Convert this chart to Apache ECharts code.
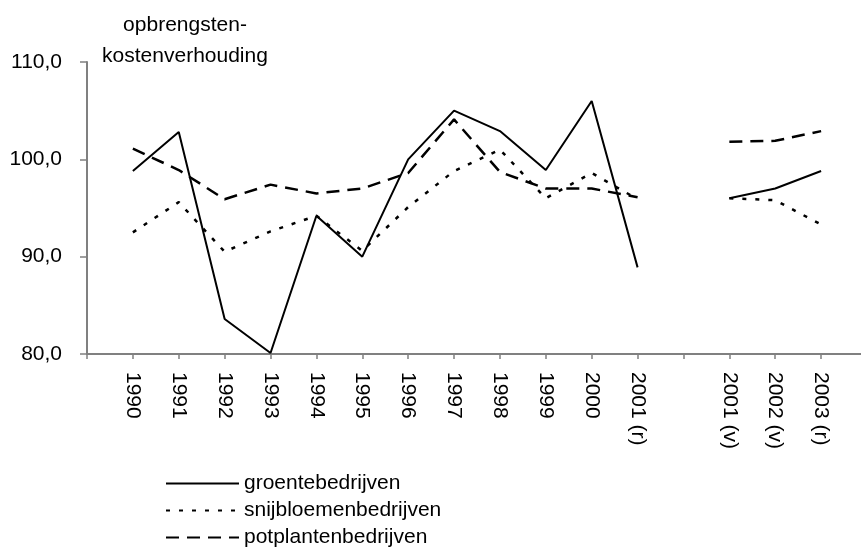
<!DOCTYPE html>
<html>
<head>
<meta charset="utf-8">
<script src="https://cdn.jsdelivr.net/npm/echarts@6/dist/echarts.min.js"></script>
<style>
  html, body { margin: 0; padding: 0; background: #fff; }
  #chart { width: 861px; height: 547px; }
</style>
</head>
<body>
<div id="chart"></div>
<script>
// categorieën (lege plekken geven de ruimte voor/na en de onderbreking)
const categories = ["", "1990", "1991", "1992", "1993", "1994", "1995", "1996", "1997", "1998", "1999", "2000", "2001 (r)", "", "2001 (v)", "2002 (v)", "2003 (r)", ""];
const groente = [null, 98.8, 102.8, 83.6, 80.1, 94.2, 90.0, 100.0, 105.0, 102.9, 98.9, 106.0, 88.9, null, 96.0, 97.0, 98.8, null];
const snijbloemen = [null, 92.5, 95.6, 90.5, 92.6, 94.2, 90.6, 95.1, 98.8, 101.0, 96.0, 98.6, 95.9, null, 96.0, 95.8, 93.3, null];
const potplanten = [null, 101.1, 98.9, 95.9, 97.4, 96.5, 97.0, 98.6, 104.1, 98.7, 97.0, 97.0, 96.1, null, 101.8, 101.9, 102.9, null];
const seriesNames = ["groentebedrijven", "snijbloemenbedrijven", "potplantenbedrijven"];

const font = "'Liberation Sans', Arial, sans-serif";
const chart = echarts.init(document.getElementById("chart"));

function lijn(name, data, type, width) {
  return {
    name: name,
    type: "line",
    data: data,
    symbol: "none",
    connectNulls: false,
    animation: false,
    itemStyle: { color: "#000" },
    lineStyle: { color: "#000", width: width, type: type }
  };
}

// één legenda per reeks, onder elkaar
function legenda(name, top) {
  return {
    data: [name],
    left: 165,
    top: top,
    padding: 0,
    itemWidth: 73,
    itemHeight: 14,
    itemStyle: { opacity: 0, borderWidth: 0 },
    textStyle: { fontFamily: font, fontSize: 21, color: "#000" }
  };
}

const option = {
  backgroundColor: "#fff",
  title: {
    text: "opbrengsten-\nkostenverhouding",
    left: 185,
    top: 10,
    padding: 0,
    textAlign: "center",
    textStyle: { fontFamily: font, fontSize: 21, fontWeight: "normal", color: "#000", lineHeight: 31 }
  },
  legend: [
    legenda(seriesNames[0], 473),
    legenda(seriesNames[1], 500),
    legenda(seriesNames[2], 527)
  ],
  grid: { left: 87, right: -6, top: 62, bottom: 193, outerBoundsMode: "none" },
  xAxis: {
    type: "category",
    data: categories,
    boundaryGap: false,
    axisLine: { lineStyle: { color: "#808080", width: 2 } },
    axisTick: { show: true, interval: 0, length: 5, lineStyle: { color: "#808080", width: 1.5 } },
    axisLabel: { interval: 0, rotate: -90, margin: 18, fontFamily: font, fontSize: 21, color: "#000" },
    splitLine: { show: false }
  },
  yAxis: {
    type: "value",
    min: 80,
    max: 110,
    interval: 10,
    axisLine: { show: true, lineStyle: { color: "#808080", width: 2 } },
    axisTick: { show: true, length: 7, lineStyle: { color: "#808080", width: 1.5 } },
    axisLabel: {
      margin: 25,
      fontFamily: font,
      fontSize: 21,
      color: "#000",
      formatter: v => v.toFixed(1).replace(".", ",")
    },
    splitLine: { show: false }
  },
  series: [
    lijn(seriesNames[0], groente, "solid", 2),
    lijn(seriesNames[1], snijbloemen, [4, 9], 2.5),
    lijn(seriesNames[2], potplanten, [13, 8], 2.5)
  ]
};
chart.setOption(option);
</script>
</body>
</html>
